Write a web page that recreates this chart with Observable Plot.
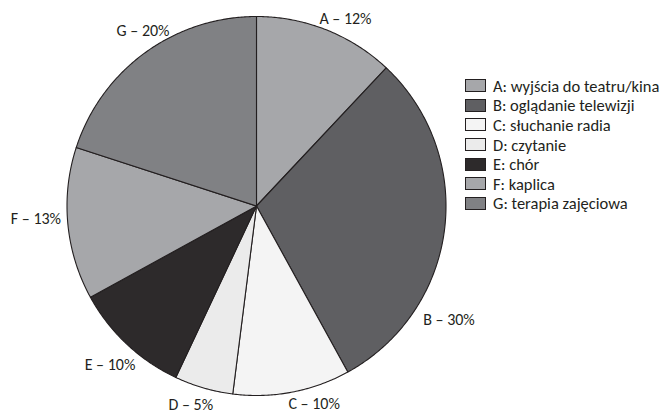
<!DOCTYPE html>
<html>
<head>
<meta charset="utf-8">
<script src="https://cdn.jsdelivr.net/npm/d3@7"></script>
<script src="https://cdn.jsdelivr.net/npm/@observablehq/plot@0.6"></script>
<style>
  html, body { margin: 0; padding: 0; background: #fff; }
  #chart { position: relative; width: 669px; height: 413px; overflow: hidden;
           font-family: Carlito, Calibri, Lato, sans-serif; color: #231f20; }
  #chart svg { position: absolute; left: 0; top: 0; }
  #legend { position: absolute; left: 465px; top: 76px; font-size: 16.5px; }
  .row { display: flex; align-items: center; height: 19.6px; white-space: nowrap; }
  .sw { width: 19px; height: 11px; border: 1px solid #231f20; margin-right: 7px; flex: none; }
</style>
</head>
<body>
<div id="chart"><div id="legend"></div></div>
<script>
// ---- data ----
const categories = ["A", "B", "C", "D", "E", "F", "G"];
const values = [12, 30, 10, 5, 10, 13, 20];
const legendNames = [
  "A: wyjścia do teatru/kina",
  "B: oglądanie telewizji",
  "C: słuchanie radia",
  "D: czytanie",
  "E: chór",
  "F: kaplica",
  "G: terapia zajęciowa"
];
const sliceColors = ["#a6a7aa", "#5f5f62", "#f4f4f4", "#ebebeb", "#2d2a2b", "#a6a7aa", "#808184"];

// ---- layout (label placement: angle in degrees clockwise from top, radius as fraction) ----
const labelAngle = [25.4, 120.5, 163.8, 198.3, 222.6, 266.6, 327.1];
const labelRadius = [1.095, 1.179, 1.09, 1.103, 1.142, 1.166, 1.102];
const cx = 256, cy = 205.5, R = 189.5;

// build slice polygons from values
const total = d3.sum(values);
const rows = [];
let acc = 0;
categories.forEach((c, i) => {
  const a0 = acc / total * 2 * Math.PI;
  acc += values[i];
  const a1 = acc / total * 2 * Math.PI;
  rows.push({cat: c, x: 0, y: 0});
  const n = Math.max(2, Math.ceil((a1 - a0) / (Math.PI / 360)));
  for (let k = 0; k <= n; k++) {
    const a = a0 + (a1 - a0) * k / n;
    rows.push({cat: c, x: Math.sin(a), y: Math.cos(a)});
  }
  rows.push({cat: c, x: 0, y: 0});
});

const labels = categories.map((c, i) => {
  const a = labelAngle[i] * Math.PI / 180;
  return {text: `${c} – ${values[i]}%`, x: labelRadius[i] * Math.sin(a), y: labelRadius[i] * Math.cos(a)};
});

const plot = Plot.plot({
  width: 669,
  height: 413,
  margin: 0,
  style: {fontFamily: "Carlito, Calibri, Lato, sans-serif", background: "transparent"},
  x: {domain: [-1, 1], range: [cx - R, cx + R], axis: null},
  y: {domain: [-1, 1], range: [cy + R, cy - R], axis: null},
  color: {domain: categories, range: sliceColors},
  marks: [
    Plot.line(rows, {x: "x", y: "y", z: "cat", fill: "cat", stroke: "#231f20", strokeWidth: 1.1, curve: "linear", strokeLinejoin: "round"}),
    Plot.text(labels, {x: "x", y: "y", text: "text", fontSize: 16, fill: "#231f20"})
  ]
});
document.getElementById("chart").prepend(plot);

const color = plot.scale("color");
const legend = d3.select("#legend");
categories.forEach((c, i) => {
  const row = legend.append("div").attr("class", "row");
  row.append("span").attr("class", "sw").style("background", color.apply(c));
  row.append("span").text(legendNames[i]);
});
</script>
</body>
</html>
